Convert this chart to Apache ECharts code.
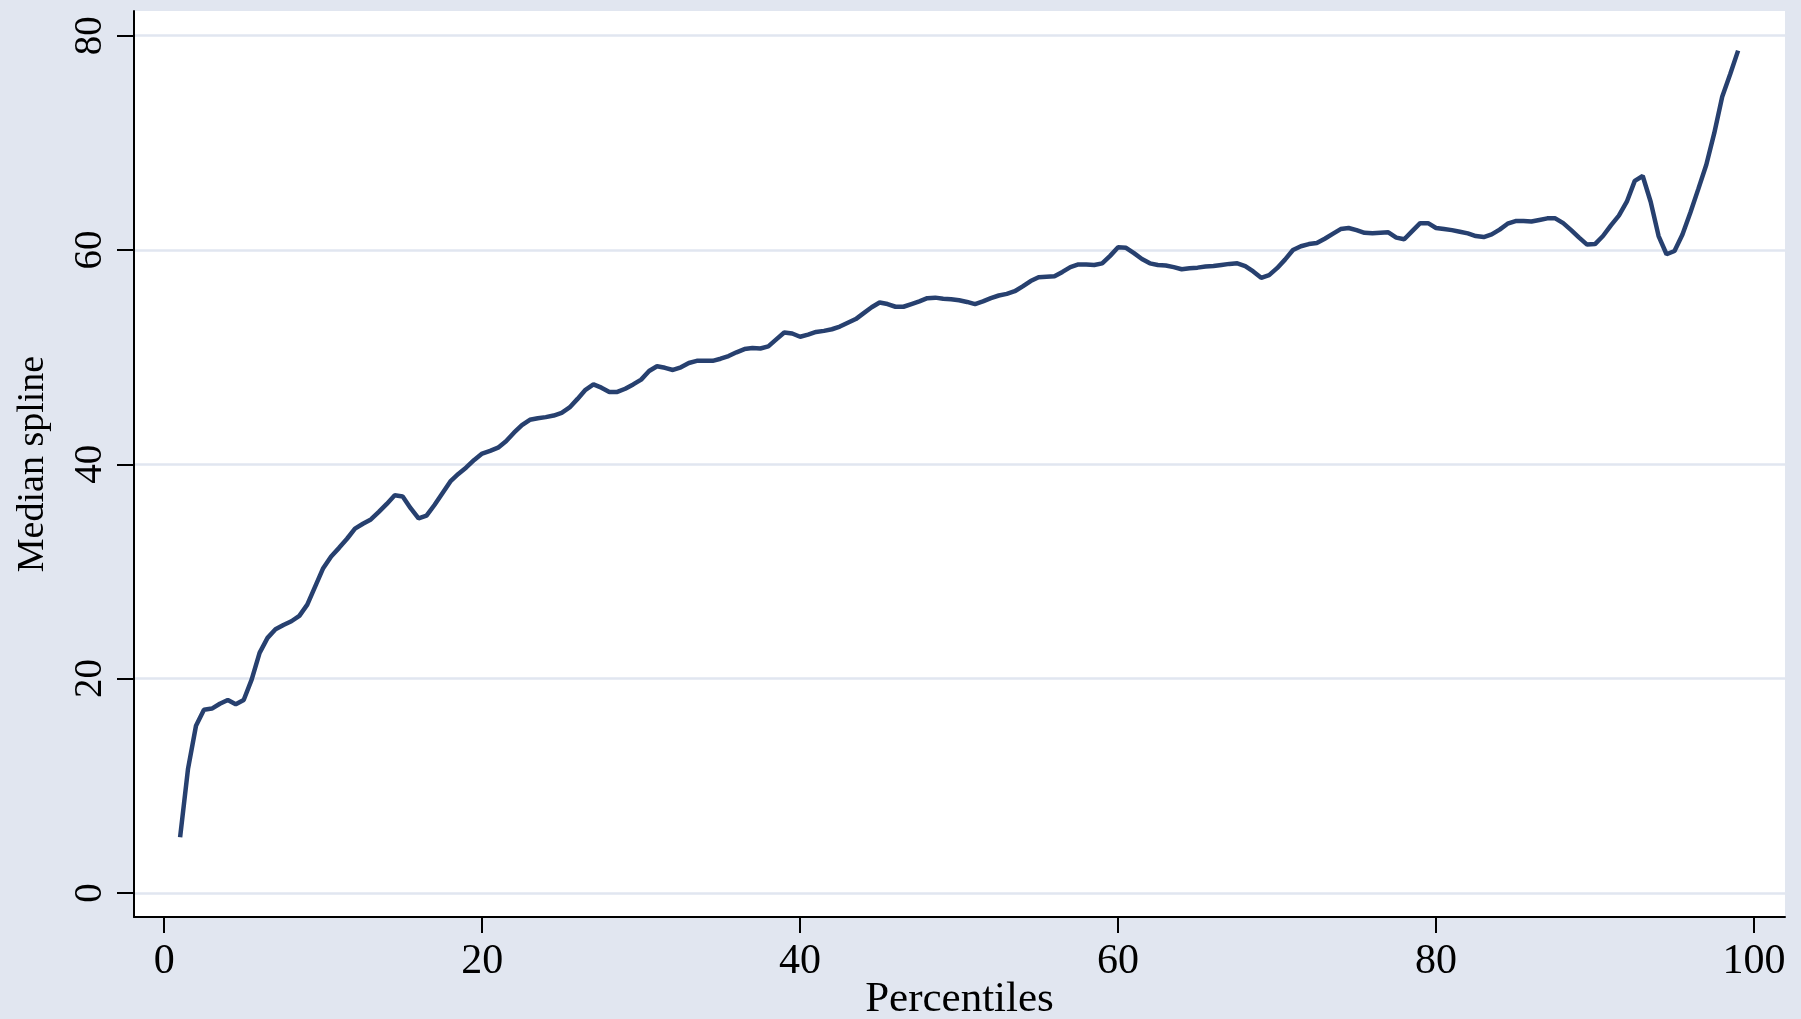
<!DOCTYPE html>
<html lang="en">
<head>
    <meta charset="UTF-8">
    <title>Median spline by percentile</title>
    <script src="https://cdn.jsdelivr.net/npm/echarts@6/dist/echarts.min.js"></script>
    <style>
        html, body {
            margin: 0;
            padding: 0;
            background: #e1e6f0;
        }

        #chart {
            width: 1801px;
            height: 1019px;
        }
    </style>
</head>
<body>

<div id="chart"></div>

<script>
    // ------------------------- data -------------------------
    const percentiles = [
        1, 1.5, 2, 2.5, 3, 3.5, 4, 4.5, 5, 5.5, 6, 6.5, 7, 7.5, 8, 8.5, 9, 9.5, 10, 10.5,
        11, 11.5, 12, 12.5, 13, 13.5, 14, 14.5, 15, 15.5, 16, 16.5, 17, 17.5, 18, 18.5, 19, 19.5, 20, 20.5,
        21, 21.5, 22, 22.5, 23, 23.5, 24, 24.5, 25, 25.5, 26, 26.5, 27, 27.5, 28, 28.5, 29, 29.5, 30, 30.5,
        31, 31.5, 32, 32.5, 33, 33.5, 34, 34.5, 35, 35.5, 36, 36.5, 37, 37.5, 38, 38.5, 39, 39.5, 40, 40.5,
        41, 41.5, 42, 42.5, 43, 43.5, 44, 44.5, 45, 45.5, 46, 46.5, 47, 47.5, 48, 48.5, 49, 49.5, 50, 50.5,
        51, 51.5, 52, 52.5, 53, 53.5, 54, 54.5, 55, 55.5, 56, 56.5, 57, 57.5, 58, 58.5, 59, 59.5, 60, 60.5,
        61, 61.5, 62, 62.5, 63, 63.5, 64, 64.5, 65, 65.5, 66, 66.5, 67, 67.5, 68, 68.5, 69, 69.5, 70, 70.5,
        71, 71.5, 72, 72.5, 73, 73.5, 74, 74.5, 75, 75.5, 76, 76.5, 77, 77.5, 78, 78.5, 79, 79.5, 80, 80.5,
        81, 81.5, 82, 82.5, 83, 83.5, 84, 84.5, 85, 85.5, 86, 86.5, 87, 87.5, 88, 88.5, 89, 89.5, 90, 90.5,
        91, 91.5, 92, 92.5, 93, 93.5, 94, 94.5, 95, 95.5, 96, 96.5, 97, 97.5, 98, 98.5, 99
    ];

    const medianSpline = [
        5.2, 11.6, 15.6, 17.1, 17.2, 17.65, 18.0, 17.6, 18.0, 19.9,
        22.4, 23.8, 24.6, 25.0, 25.35, 25.85, 26.9, 28.6, 30.3, 31.4,
        32.2, 33.05, 34.0, 34.45, 34.85, 35.55, 36.3, 37.1, 37.0, 35.9,
        34.95, 35.2, 36.2, 37.3, 38.4, 39.1, 39.7, 40.4, 41.0, 41.25,
        41.55, 42.15, 42.95, 43.65, 44.15, 44.3, 44.4, 44.55, 44.8, 45.3,
        46.1, 46.95, 47.45, 47.15, 46.75, 46.75, 47.05, 47.45, 47.9, 48.7,
        49.15, 49.0, 48.8, 49.05, 49.45, 49.65, 49.65, 49.65, 49.85, 50.1,
        50.45, 50.75, 50.85, 50.8, 51.0, 51.65, 52.3, 52.2, 51.9, 52.1,
        52.35, 52.45, 52.6, 52.85, 53.2, 53.55, 54.1, 54.65, 55.1, 54.95,
        54.7, 54.7, 54.95, 55.2, 55.5, 55.55, 55.45, 55.4, 55.3, 55.15,
        54.95, 55.2, 55.5, 55.75, 55.9, 56.15, 56.6, 57.1, 57.45, 57.5,
        57.55, 57.95, 58.4, 58.65, 58.65, 58.6, 58.75, 59.45, 60.25, 60.2,
        59.7, 59.15, 58.75, 58.6, 58.55, 58.4, 58.2, 58.3, 58.35, 58.45,
        58.5, 58.6, 58.7, 58.75, 58.5, 58.0, 57.4, 57.65, 58.3, 59.1,
        60.0, 60.35, 60.55, 60.65, 61.05, 61.5, 61.95, 62.05, 61.85, 61.6,
        61.55, 61.6, 61.65, 61.15, 61.0, 61.75, 62.5, 62.5, 62.05, 61.95,
        61.85, 61.7, 61.55, 61.3, 61.2, 61.45, 61.9, 62.45, 62.7, 62.7,
        62.65, 62.8, 62.95, 62.95, 62.5, 61.85, 61.15, 60.5, 60.55, 61.3,
        62.3, 63.2, 64.5, 66.45, 66.9, 64.5, 61.3, 59.6, 59.9, 61.45,
        63.5, 65.7, 67.95, 70.9, 74.3, 76.4, 78.6
    ];

    const xTickValues = [0, 20, 40, 60, 80, 100];
    const yTickValues = [0, 20, 40, 60, 80];

    // ------------------------- chart -------------------------
    const chart = echarts.init(document.getElementById('chart'), null, { renderer: 'canvas' });

    const serif = "'Liberation Serif', 'Times New Roman', serif";

    const option = {
        animation: false,
        backgroundColor: '#e1e6f0',
        grid: {
            show: true,
            left: 134,
            right: 16,
            top: 11,
            bottom: 102,
            containLabel: false,
            outerBoundsMode: 'none',   // keep the plot box where it is
            backgroundColor: '#ffffff',
            borderWidth: 0
        },
        xAxis: {
            type: 'value',
            min: -1.9,
            max: 101.95,
            name: 'Percentiles',
            nameLocation: 'middle',
            nameGap: 61,
            nameMoveOverlap: false,
            nameTextStyle: { fontFamily: serif, fontSize: 43, color: '#000' },
            axisLine: { show: true, onZero: false, lineStyle: { color: '#000', width: 2 } },
            axisTick: { show: true, customValues: xTickValues, length: 16, lineStyle: { color: '#000', width: 2 } },
            axisLabel: { customValues: xTickValues, fontFamily: serif, fontSize: 42, color: '#000', margin: 24 },
            splitLine: { show: false }
        },
        yAxis: {
            type: 'value',
            min: -2.25,
            max: 82.3,
            name: 'Median spline',
            nameLocation: 'middle',
            nameRotate: 90,
            nameGap: 82,
            nameMoveOverlap: false,
            nameTextStyle: { fontFamily: serif, fontSize: 38, color: '#000' },
            axisLine: { show: true, onZero: false, lineStyle: { color: '#000', width: 2 } },
            axisTick: { show: true, customValues: yTickValues, length: 17, lineStyle: { color: '#000', width: 2 } },
            axisLabel: { customValues: yTickValues, rotate: 90, fontFamily: serif, fontSize: 39, color: '#000', margin: 24 },
            splitLine: { show: true, lineStyle: { color: '#e1e6f0', width: 2.5 } }
        },
        series: [{
            type: 'line',
            data: percentiles.map((p, i) => [p, medianSpline[i]]),
            showSymbol: false,
            smooth: false,
            lineStyle: { color: '#27406f', width: 4.5 },
            z: 3
        }]
    };

    chart.setOption(option);
</script>

</body>
</html>
